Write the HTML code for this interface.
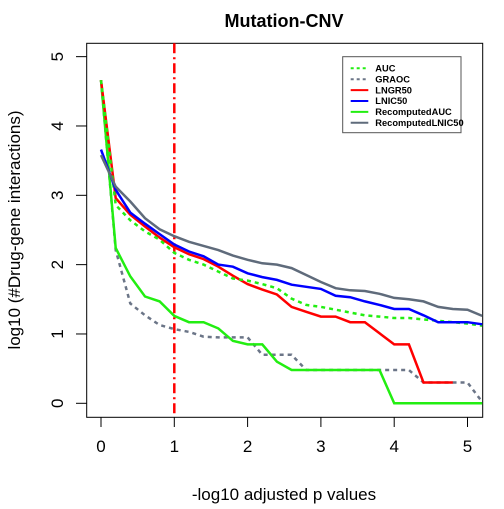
<!DOCTYPE html>
<html><head><meta charset="utf-8"><style>
body{margin:0;background:#fff}
svg text{font-family:"Liberation Sans",Arial,sans-serif}
</style></head><body>
<svg id="chart" width="504" height="504" viewBox="0 0 504 504">
<text x="284" y="27" font-size="18" font-weight="bold" text-anchor="middle">Mutation-CNV</text>
<rect x="86.7" y="43.3" width="396" height="374" fill="none" stroke="#000" stroke-width="1"/>
<g id="axes"></g>
<g id="series"></g>
<text x="284" y="500" font-size="17" text-anchor="middle">-log10 adjusted p values</text>
<text transform="translate(20,230) rotate(-90)" font-size="17" text-anchor="middle">log10 (#Drug-gene interactions)</text>
<g id="legend"></g>
</svg>
<script>
const xs = [0,0.2,0.4,0.6,0.8,1,1.2,1.4,1.6,1.8,2,2.2,2.4,2.6,2.8,3,3.2,3.4,3.6,3.8,4,4.2,4.4,4.6,4.8,5,5.2];
const aucVals = [4.66,2.86,2.64,2.48,2.36,2.17,2.07,2.0,1.9,1.8,1.77,1.72,1.66,1.51,1.42,1.39,1.35,1.31,1.27,1.25,1.23,1.23,1.21,1.19,1.17,1.15,1.12];
const graocVals = [4.66,2.21,1.44,1.27,1.13,1.07,1.03,0.96,0.95,0.95,0.95,0.70,0.70,0.70,0.48,0.48,0.48,0.48,0.48,0.48,0.48,0.48,0.30,0.30,0.30,0.30,0.02];
const lngr50Vals = [4.66,2.96,2.72,2.55,2.39,2.25,2.15,2.08,1.97,1.84,1.72,1.64,1.57,1.39,1.32,1.25,1.25,1.17,1.17,1.01,0.85,0.85,0.30,0.30,0.30];
const lnic50Vals = [3.66,3.08,2.75,2.59,2.44,2.29,2.19,2.12,2.0,1.97,1.875,1.82,1.78,1.71,1.68,1.65,1.55,1.53,1.47,1.42,1.36,1.36,1.27,1.17,1.17,1.17,1.14];
const recAucVals = [4.66,2.24,1.83,1.54,1.47,1.26,1.17,1.17,1.08,0.90,0.85,0.85,0.60,0.48,0.48,0.48,0.48,0.48,0.48,0.48,0,0,0,0,0,0,0];
const recLnicVals = [3.58,3.125,2.91,2.67,2.51,2.41,2.33,2.27,2.21,2.13,2.07,2.02,2.0,1.95,1.85,1.75,1.66,1.63,1.62,1.58,1.52,1.5,1.47,1.39,1.36,1.35,1.26];
const xTicks = [0,1,2,3,4,5];
const yTicks = [0,1,2,3,4,5];
const seriesNames = ["AUC","GRAOC","LNGR50","LNIC50","RecomputedAUC","RecomputedLNIC50"];
const NS="http://www.w3.org/2000/svg";
const X = v => 101 + v*73.3;
const Y = v => 403.3 - v*69.33;
function mk(tag, attrs, parent){const e=document.createElementNS(NS,tag);for(const k in attrs)e.setAttribute(k,attrs[k]);parent.appendChild(e);return e;}
const axes=document.getElementById('axes');
xTicks.forEach(t=>{
  const l=mk('line',{x1:X(t),x2:X(t),y1:417.3,y2:427,stroke:'#000'},axes);
  
  
  const tx=mk('text',{x:X(t),y:452,'font-size':17,'text-anchor':'middle'},axes);
  tx.textContent=t;
  
  
});
yTicks.forEach(t=>{
  const l=mk('line',{x1:76,x2:86.7,y1:Y(t),y2:Y(t),stroke:'#000'},axes);
  
  
  const tx=mk('text',{transform:`translate(63,${Y(t)}) rotate(-90)`,'font-size':17,'text-anchor':'middle'},axes);
  tx.textContent=t;
  
  
});
const ser=document.getElementById('series');
const cutoff=mk('line',{x1:X(1),x2:X(1),y1:43.3,y2:417.3,stroke:'#ff0000','stroke-width':2.5,'stroke-dasharray':'10,4,2,4'},ser);


const defs=[
  [graocVals,'#6b7587','4,4','graoc-line'],
  [recAucVals,'#22ee11',null,'recomputed-auc-line'],
  [lngr50Vals,'#ff0000',null,'lngr50-line'],
  [aucVals,'#22ee11','4,4','auc-line'],
  [lnic50Vals,'#0000ff',null,'lnic50-line'],
  [recLnicVals,'#5f6b7b',null,'recomputed-lnic50-line']
];
defs.forEach(([vals,c,dash,name])=>{
  const pts=vals.map((v,i)=>X(xs[i]).toFixed(1)+','+Y(v).toFixed(1)).join(' ');
  const a={points:pts,fill:'none',stroke:c,'stroke-width':2.5};
  if(dash)a['stroke-dasharray']=dash;
  const p=mk('polyline',a,ser);
  
  
});
const lg=document.getElementById('legend');
const box=mk('rect',{x:342.7,y:56.7,width:118.3,height:76,fill:'#fff',stroke:'#555'},lg);


const lcol=[['#22ee11','3,3'],['#6b7587','3,3'],['#ff0000',null],['#0000ff',null],['#22ee11',null],['#5f6b7b',null]];
seriesNames.forEach((n,i)=>{
  const y=68.3+i*10.9;
  const a={x1:350.7,x2:368.3,y1:y,y2:y,stroke:lcol[i][0],'stroke-width':2};
  if(lcol[i][1])a['stroke-dasharray']=lcol[i][1];
  const l=mk('line',a,lg);
  
  
  const t=mk('text',{x:375.3,y:y+3.2,'font-size':9.3,'font-weight':'bold'},lg);
  t.textContent=n;
  
  
});
</script>
</body></html>
